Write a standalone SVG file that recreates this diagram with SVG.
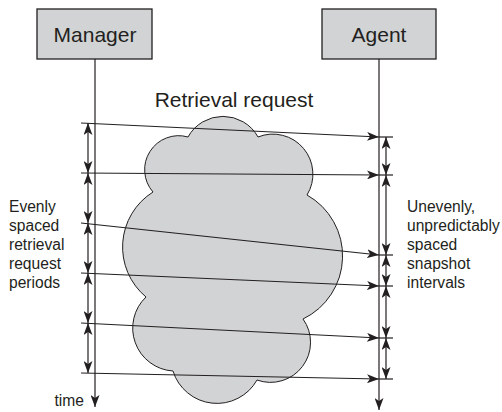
<svg xmlns="http://www.w3.org/2000/svg" width="502" height="412" viewBox="0 0 502 412">
<style>
.box{fill:#d1d3d4;stroke:#231f20;stroke-width:1.3}
.ln{stroke:#231f20;stroke-width:1.2;fill:none}
.t{font-family:"Liberation Sans",Arial,sans-serif;fill:#231f20}
.big{font-size:21px}
.sm{font-size:15.6px}
</style>
<defs>
<marker id="ah" viewBox="0 0 12 9" refX="12" refY="4.5" markerWidth="12" markerHeight="9" markerUnits="userSpaceOnUse" orient="auto-start-reverse">
<path d="M0,0 L12,4.5 L0,9 L3,4.5 Z" fill="#231f20"/>
</marker>
</defs>
<rect width="502" height="412" fill="#ffffff"/>
<g id="cloud">
<path d="M188,137 A40,40 0 0 1 258,137 A40,40 0 0 1 307,195 A70,70 0 0 1 303,319 A40,40 0 0 1 257,380 A46,46 0 0 1 173,371 A43,43 0 0 1 146,297 A65,65 0 0 1 153,192 A34,34 0 0 1 188,137 Z" fill="#d1d3d4" stroke="#231f20" stroke-width="1"/>
</g>
<g id="manager">
<rect class="box" x="37" y="9" width="115" height="50"/>
<text class="t big" x="95" y="42" text-anchor="middle">Manager</text>
</g>
<g id="agent">
<rect class="box" x="322" y="9" width="114" height="50"/>
<text class="t big" x="379" y="42" text-anchor="middle">Agent</text>
</g>
<g id="labels">
<text class="t big" x="234" y="107" text-anchor="middle">Retrieval request</text>
<text class="t sm" x="9"><tspan x="9" y="212">Evenly</tspan><tspan x="9" y="231">spaced</tspan><tspan x="9" y="250">retrieval</tspan><tspan x="9" y="269">request</tspan><tspan x="9" y="288">periods</tspan></text>
<text class="t sm" x="407"><tspan x="407" y="212">Unevenly,</tspan><tspan x="407" y="231">unpredictably</tspan><tspan x="407" y="250">spaced</tspan><tspan x="407" y="269">snapshot</tspan><tspan x="407" y="288">intervals</tspan></text>
<text class="t sm" x="84" y="406" text-anchor="end">time</text>
</g>
<g id="connectors">
<line class="ln" x1="95" y1="59" x2="95" y2="407" marker-end="url(#ah)"/>
<line class="ln" x1="379" y1="59" x2="379" y2="410" marker-end="url(#ah)"/>
<line class="ln" x1="81" y1="123" x2="379" y2="137" marker-end="url(#ah)"/>
<line class="ln" x1="81" y1="173" x2="379" y2="175" marker-end="url(#ah)"/>
<line class="ln" x1="81" y1="223" x2="379" y2="255" marker-end="url(#ah)"/>
<line class="ln" x1="81" y1="273" x2="379" y2="286" marker-end="url(#ah)"/>
<line class="ln" x1="81" y1="323" x2="379" y2="338" marker-end="url(#ah)"/>
<line class="ln" x1="81" y1="373" x2="379" y2="379" marker-end="url(#ah)"/>
<line class="ln" x1="379" y1="137" x2="393" y2="137"/>
<line class="ln" x1="379" y1="175" x2="393" y2="175"/>
<line class="ln" x1="379" y1="255" x2="393" y2="255"/>
<line class="ln" x1="379" y1="286" x2="393" y2="286"/>
<line class="ln" x1="379" y1="338" x2="393" y2="338"/>
<line class="ln" x1="379" y1="379" x2="393" y2="379"/>
<line class="ln" x1="88" y1="123" x2="88" y2="173" marker-start="url(#ah)" marker-end="url(#ah)"/>
<line class="ln" x1="88" y1="173" x2="88" y2="223" marker-start="url(#ah)" marker-end="url(#ah)"/>
<line class="ln" x1="88" y1="223" x2="88" y2="273" marker-start="url(#ah)" marker-end="url(#ah)"/>
<line class="ln" x1="88" y1="273" x2="88" y2="323" marker-start="url(#ah)" marker-end="url(#ah)"/>
<line class="ln" x1="88" y1="323" x2="88" y2="373" marker-start="url(#ah)" marker-end="url(#ah)"/>
<line class="ln" x1="386" y1="137" x2="386" y2="175" marker-start="url(#ah)" marker-end="url(#ah)"/>
<line class="ln" x1="386" y1="175" x2="386" y2="255" marker-start="url(#ah)" marker-end="url(#ah)"/>
<line class="ln" x1="386" y1="255" x2="386" y2="286" marker-start="url(#ah)" marker-end="url(#ah)"/>
<line class="ln" x1="386" y1="286" x2="386" y2="338" marker-start="url(#ah)" marker-end="url(#ah)"/>
<line class="ln" x1="386" y1="338" x2="386" y2="379" marker-start="url(#ah)" marker-end="url(#ah)"/>
</g>
</svg>
